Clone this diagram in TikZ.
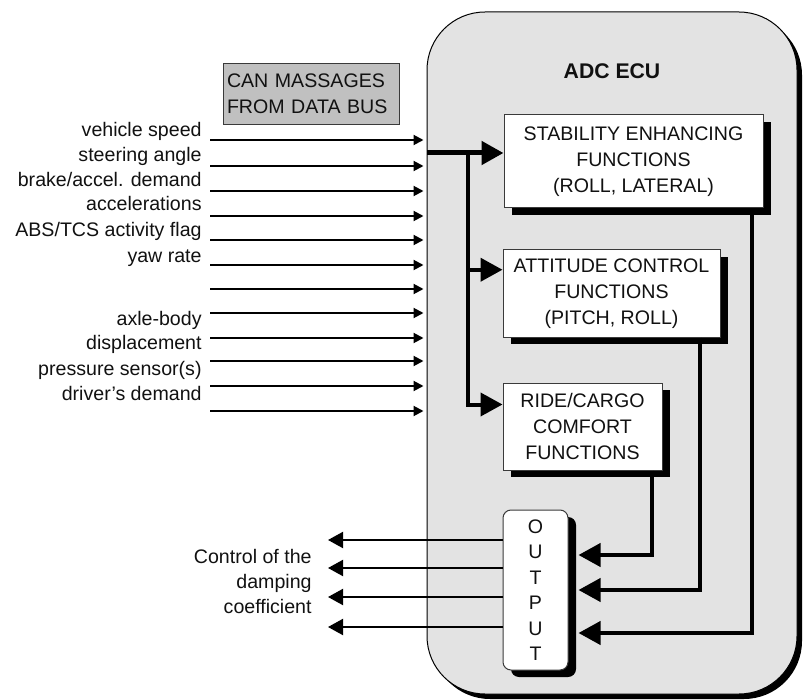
\documentclass[tikz,border=0pt]{standalone}
\usepackage{fontspec}
\setmainfont{Liberation Sans}
\usetikzlibrary{positioning, arrows.meta, calc, shadows}
\definecolor{ecuFill}{HTML}{e3e3e3}
\definecolor{canFill}{HTML}{c0c0c0}
\definecolor{edgeC}{HTML}{3a3a3a}
\definecolor{ink}{HTML}{111111}

\begin{document}
\begin{tikzpicture}[x=0.5pt, y=-0.5pt, every node/.style={font=\fontsize{9.8}{12.9}\selectfont, text=ink},
ecubox/.style={draw=black, line width=0.5pt, fill=ecuFill, rounded corners=29pt, minimum width=185pt, minimum height=341pt, drop shadow={shadow xshift=2.5pt, shadow yshift=-2.5pt, fill=black, opacity=1}},
fnbox/.style={draw=edgeC, line width=0.5pt, fill=white, align=center, inner sep=0pt, drop shadow={shadow xshift=4pt, shadow yshift=-3.5pt, fill=black, opacity=1}},
sig/.style={anchor=east, inner sep=0pt, text height=7pt, text depth=2pt},
inarr/.style={line width=1pt, shorten >=1.5pt, -{Triangle[length=5pt, width=5pt]}},
outarr/.style={line width=1pt, -{Triangle[length=7.5pt, width=8pt]}},
bus/.style={line width=2pt, -{Triangle[length=11pt, width=11.5pt]}}]
\useasboundingbox (0,0) rectangle (803,700);
\node[ecubox] (ecu) at (612,353) {};
\node[font=\fontsize{10.6}{12.9}\selectfont\bfseries] (ttl) at (612,71) {ADC ECU};
\node[draw=edgeC, fill=canFill, text width=84pt, inner sep=2pt, minimum height=30.5pt, align=left] (can) at (311,93.5) {CAN MASSAGES\\FROM DATA BUS};
\node[fnbox, minimum width=129.5pt, minimum height=46.5pt] (stab) at (633.5,161.5) {STABILITY ENHANCING\\FUNCTIONS\\(ROLL, LATERAL)};
\node[fnbox, minimum width=108.5pt, minimum height=43.5pt] (att) at (611.5,293.5) {ATTITUDE CONTROL\\FUNCTIONS\\(PITCH, ROLL)};
\node[fnbox, minimum width=79.5pt, minimum height=43.5pt] (ride) at (582.5,426.5) {RIDE/CARGO\\COMFORT\\FUNCTIONS};
\node[fnbox, rounded corners=4pt, minimum width=32.5pt, minimum height=80pt, font=\fontsize{9.8}{12.75}\selectfont] (out) at (535.5,590) {O\\U\\T\\P\\U\\T};
% sensor signals
\foreach \y/\t [count=\i] in {131.7/{vehicle speed}, 156.7/{steering angle}, 181.7/{brake/accel. demand}, 206/{accelerations}, 231.7/{ABS/TCS activity flag}, 257.3/{yaw rate}, 320/{axle-body}, 345/{displacement}, 370/{pressure sensor(s)}, 395/{driver’s demand}}
  \node[sig] (sig\i) at (202,\y) {\t};
\foreach \y [count=\i] in {140,166,191,216,240,265,289,313,338,361,386,411} {
  \coordinate (in\i) at (210,\y);
  \draw[inarr] (in\i) -- (in\i -| ecu.west);
}
% distribution to the function blocks
\coordinate (bus) at (427,153);
\coordinate (tap) at (468,153);
\coordinate (a1) at ($(att.north west)!0.23!(att.south west)$);
\coordinate (r1) at ($(ride.north west)!0.25!(ride.south west)$);
\draw[bus, line width=2.5pt] (bus) -- (bus -| stab.west);
\draw[bus] (tap) |- (r1);
\draw[bus] (tap |- a1) -- (a1);
% back to the output stage
\coordinate (fr) at (652,555);
\coordinate (fa) at (700,590);
\coordinate (fs) at (752,633);
\draw[bus] (fr |- ride.south) -- (fr) -- ($(fr -| out.east)+(10,0)$);
\draw[bus] (fa |- att.south) -- (fa) -- ($(fa -| out.east)+(10,0)$);
\draw[bus] (fs |- stab.south) -- (fs) -- ($(fs -| out.east)+(10,0)$);
% damping control
\foreach \y [count=\i] in {540,568,597,627} {
  \coordinate (ctl\i) at (328,\y);
  \draw[outarr] (ctl\i -| out.west) -- (ctl\i);
}
\node[align=right, anchor=east, inner sep=0pt, font=\fontsize{9.8}{12.5}\selectfont] (ctl) at (312,581) {Control of the\\damping\\coefficient};
\end{tikzpicture}
\end{document}
